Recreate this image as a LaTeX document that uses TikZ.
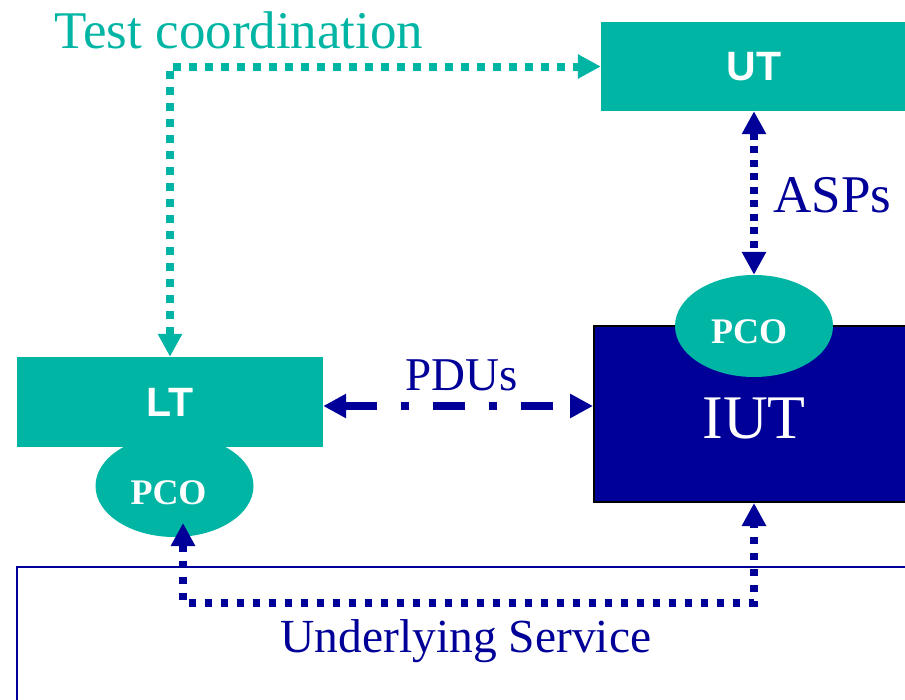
\documentclass[tikz,border=0pt]{standalone}
\usepackage{fontspec}
\setmainfont{Liberation Serif}
\newfontfamily\headfont{Liberation Sans}
\usetikzlibrary{arrows.meta,shapes.geometric}
\definecolor{tealc}{RGB}{0,181,164}
\definecolor{navy}{RGB}{0,0,153}
\begin{document}
\begin{tikzpicture}[x=1pt,y=-1pt,
  box/.style={rectangle, fill=tealc, inner sep=0pt, text=white,
    font=\headfont\bfseries\fontsize{41}{41}\selectfont},
  pco/.style={ellipse, fill=tealc, inner sep=0pt,
    minimum width=158pt, minimum height=102pt},
  pcotext/.style={inner sep=0pt, anchor=base, text=white,
    font=\bfseries\fontsize{36}{36}\selectfont},
  lbl/.style={inner sep=0pt, anchor=base, font=\fontsize{#1}{#1}\selectfont},
  bothtips/.style={arrows={Triangle[length=23pt,width=23pt]-Triangle[length=23pt,width=23pt]}},
  coordlink/.style={draw=tealc, line width=8pt, dash pattern=on 8pt off 8pt, bothtips},
  asplink/.style={draw=navy, line width=8pt, dash pattern=on 7pt off 6.5pt, bothtips},
  servlink/.style={draw=navy, line width=7.5pt, dash pattern=on 7pt off 9pt, bothtips},
  pdulink/.style={draw=navy, line width=8.5pt,
    dash pattern=on 32pt off 24pt on 8pt off 24pt, bothtips},
]
\useasboundingbox (0,0) rectangle (905,699);
\clip (0,0) rectangle (905,699);

% underlying service frame
\draw[navy, line width=1.8pt] (17,710) -- (17,567) -- (915,567);

% testers and implementation under test
\node[box, minimum width=306pt, minimum height=89pt] (ut) at (754,66.5) {UT};
\node[box, minimum width=306pt, minimum height=90pt] (lt) at (170,402) {LT};
\node[pco] (ltpco) at (174.5,486) {};
\node[rectangle, fill=navy, draw=black, line width=2pt, inner sep=0pt,
  minimum width=320pt, minimum height=176pt] (iut) at (754,414) {};
\node[pco] (iutpco) at (754,326) {};

% labels inside shapes
\node[lbl=62, text=white] (iutname) at (754,438) {IUT};
\node[pcotext] (iutpconame) at (749,343) {PCO};
\node[pcotext] (ltpconame) at (168.5,504) {PCO};

% connectors
\coordinate (ltport) at (183,523);
\draw[coordlink] (lt.north) -- (lt.north |- ut.west) -- (ut.west);
\draw[asplink] (ut.south) -- (iutpco.north);
\draw[pdulink] ([yshift=-4pt]lt.east) -- ([yshift=-4pt]lt.east -| iut.west);
\draw[servlink] (ltport) -- (183,603) -- (iut.south |- 0,603) -- (iut.south);

% connector captions
\node[lbl=53, text=tealc] (coordcap) at (239,48) {Test coordination};
\node[lbl=53, text=navy] (aspcap) at (832.5,212) {ASPs};
\node[lbl=47, text=navy] (pducap) at (461.5,390) {PDUs};
\node[lbl=47.5, text=navy] (servcap) at (466,652) {Underlying Service};
\end{tikzpicture}
\end{document}
